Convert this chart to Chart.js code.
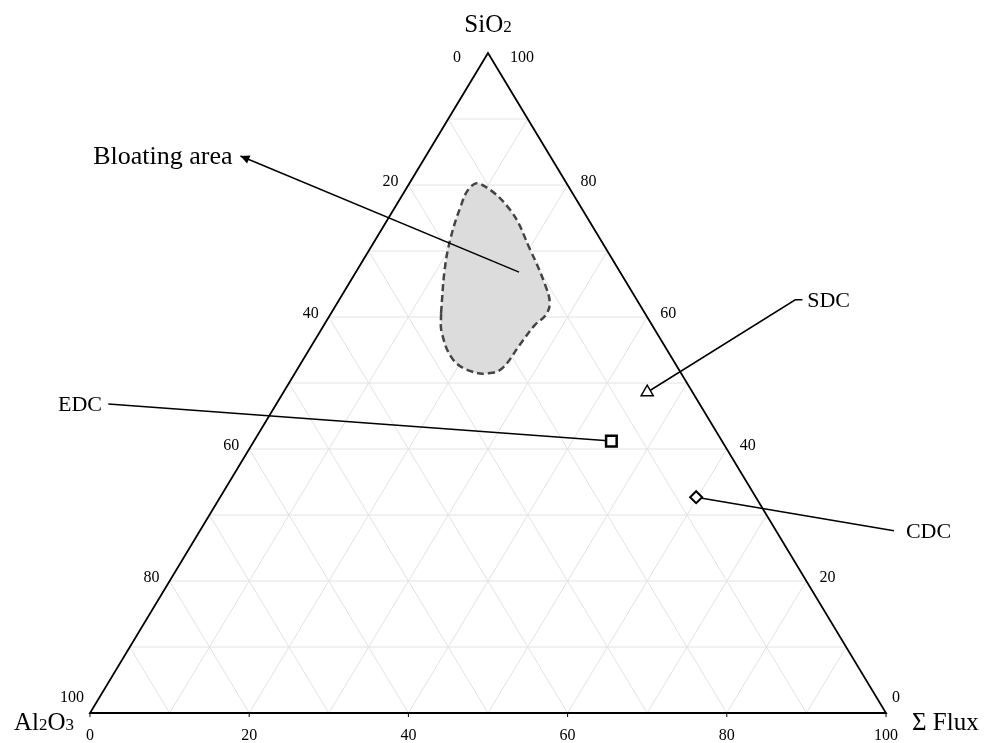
<!DOCTYPE html>
<html>
<head>
<meta charset="utf-8">
<script src="https://cdn.jsdelivr.net/npm/chart.js@4"></script>
<style>
  html, body { margin: 0; padding: 0; background: #fff; }
  canvas { display: block; }
</style>
</head>
<body>
<canvas id="ternary" width="986" height="743"></canvas>
<script>
// ternary components in %, Al2O3 = 100 - SiO2 - Flux
const sampleNames = ["SDC", "EDC", "CDC"];
const sampleSiO2 = [48.6, 41.2, 32.7];
const sampleFlux = [45.7, 44.9, 59.8];

const bloatSiO2 = [60.6, 67.1, 71.7, 76.7, 79.5, 80.2, 76.2, 70.2, 64.8, 62.1, 60.3, 58.8, 55.8, 52.3, 51.5, 51.7, 53.5, 57.6, 60.6];
const bloatFlux = [13.8, 11.0, 9.4, 8.2, 7.9, 8.9, 14.7, 20.2, 24.8, 26.7, 27.1, 26.5, 26.1, 25.7, 24.5, 22.2, 18.9, 15.4, 13.8];

const gridSteps = [10, 20, 30, 40, 50, 60, 70, 80, 90];
const tickLabels = [0, 20, 40, 60, 80, 100];

// ternary (flux, sio2) -> cartesian data units
function tern(flux, sio2) {
  return { x: flux + sio2 / 2, y: sio2 };
}

const sampleStyles = ["triangle", "rect", "rectRot"];
const sampleSizes = [7, 7.5, 6];
const sampleWidths = [1.5, 2.5, 2];

const samplePoints = sampleNames.map((n, i) => ({
  label: n,
  data: [tern(sampleFlux[i], sampleSiO2[i])],
  pointStyle: sampleStyles[i],
  pointRadius: sampleSizes[i],
  pointBorderWidth: sampleWidths[i],
  pointBorderColor: "#000",
  pointBackgroundColor: "#fff",
  showLine: false,
}));

const bloatData = bloatSiO2.map((s, i) => tern(bloatFlux[i], s));

// leader lines in data units, label anchor
const leaders = [
  { pts: [tern(sampleFlux[0], sampleSiO2[0]), { x: 88.6, y: 62.6 }, { x: 89.5, y: 62.6 }], text: "SDC", tx: 90.1, ty: 62.6, align: "left" },
  { pts: [{ x: 2.3, y: 46.8 }, tern(sampleFlux[1], sampleSiO2[1])], text: "EDC", tx: 1.5, ty: 46.8, align: "right" },
  { pts: [tern(sampleFlux[2], sampleSiO2[2]), { x: 101.0, y: 27.6 }], text: "CDC", tx: 102.5, ty: 27.6, align: "left" },
];

const ternaryPlugin = {
  id: "ternaryFrame",
  beforeDatasetsDraw(chart) {
    const ctx = chart.ctx;
    const xs = chart.scales.x, ys = chart.scales.y;
    const px = p => [xs.getPixelForValue(p.x), ys.getPixelForValue(p.y)];
    const seg = (a, b) => {
      const A = px(a), B = px(b);
      ctx.beginPath();
      ctx.moveTo(A[0], A[1]);
      ctx.lineTo(B[0], B[1]);
      ctx.stroke();
    };
    ctx.save();
    // grid
    ctx.strokeStyle = "#e2e2e2";
    ctx.lineWidth = 1;
    gridSteps.forEach(k => {
      seg(tern(0, k), tern(100 - k, k));
      seg(tern(k, 0), tern(k, 100 - k));
      seg(tern(100 - k, 0), tern(0, 100 - k));
    });
    // leader lines (under the markers)
    ctx.strokeStyle = "#000";
    ctx.lineWidth = 1.5;
    leaders.forEach(ld => {
      ctx.beginPath();
      ld.pts.forEach((p, i) => {
        const q = px(p);
        if (i === 0) ctx.moveTo(q[0], q[1]); else ctx.lineTo(q[0], q[1]);
      });
      ctx.stroke();
    });
    ctx.restore();
  },
  afterDatasetsDraw(chart) {
    const ctx = chart.ctx;
    const xs = chart.scales.x, ys = chart.scales.y;
    const px = p => [xs.getPixelForValue(p.x), ys.getPixelForValue(p.y)];
    ctx.save();
    // triangle frame
    const T = px(tern(0, 100)), L = px(tern(0, 0)), R = px(tern(100, 0));
    ctx.strokeStyle = "#000";
    ctx.lineWidth = 1.8;
    ctx.beginPath();
    ctx.moveTo(T[0], T[1]);
    ctx.lineTo(L[0], L[1]);
    ctx.lineTo(R[0], R[1]);
    ctx.closePath();
    ctx.stroke();

    ctx.lineWidth = 1;
    ctx.font = "16px 'Liberation Serif'";
    ctx.fillStyle = "#000";
    tickLabels.forEach(v => {
      // bottom: Flux
      const b = px(tern(v, 0));
      ctx.beginPath();
      ctx.moveTo(b[0], b[1]);
      ctx.lineTo(b[0], b[1] + 4);
      ctx.stroke();
      ctx.textAlign = "center";
      ctx.textBaseline = "alphabetic";
      ctx.fillText(String(v), b[0], b[1] + 27);

      // left side: Al2O3
      const l = px(tern(0, 100 - v));
      ctx.textAlign = "right";
      if (v === 0) {
        ctx.fillText("0", l[0] - 27, l[1] + 9);
      } else if (v === 100) {
        ctx.fillText("100", l[0] - 6, l[1] - 11);
      } else {
        ctx.fillText(String(v), l[0] - 10, l[1] + 1);
      }
      // right side: SiO2
      const r = px(tern(100 - v, v));
      ctx.textAlign = "left";
      if (v === 100) {
        ctx.fillText("100", r[0] + 22, r[1] + 9);
      } else if (v === 0) {
        ctx.fillText("0", r[0] + 6, r[1] - 11);
      } else {
        ctx.fillText(String(v), r[0] + 13, r[1] + 1);
      }
    });

    // axis titles with small digits
    const drawChem = (parts, x, y, align) => {
      let w = 0;
      parts.forEach(p => {
        ctx.font = (p.small ? "17px" : "25px") + " 'Liberation Serif'";
        w += ctx.measureText(p.t).width;
      });
      let cx = align === "center" ? x - w / 2 : align === "right" ? x - w : x;
      ctx.textAlign = "left";
      ctx.textBaseline = "alphabetic";
      parts.forEach(p => {
        ctx.font = (p.small ? "17px" : "25px") + " 'Liberation Serif'";
        ctx.fillText(p.t, cx, y);
        cx += ctx.measureText(p.t).width;
      });
    };
    drawChem([{ t: "SiO" }, { t: "2", small: true }], T[0], T[1] - 21, "center");
    drawChem([{ t: "Al" }, { t: "2", small: true }, { t: "O" }, { t: "3", small: true }], L[0] - 16, L[1] + 17, "right");
    drawChem([{ t: "\u03A3 Flux" }], R[0] + 26, R[1] + 17, "left");

    // sample labels
    leaders.forEach(ld => {
      const t = px({ x: ld.tx, y: ld.ty });
      ctx.font = "22px 'Liberation Serif'";
      ctx.textAlign = ld.align;
      ctx.textBaseline = "middle";
      ctx.fillText(ld.text, t[0], t[1] + 1);
    });

    // bloating area arrow
    ctx.lineWidth = 1.5;
    const a0 = px({ x: 53.9, y: 66.8 }), a1 = px({ x: 18.9, y: 84.4 });
    ctx.beginPath();
    ctx.moveTo(a0[0], a0[1]);
    ctx.lineTo(a1[0], a1[1]);
    ctx.stroke();
    const ang = Math.atan2(a1[1] - a0[1], a1[0] - a0[0]);
    ctx.beginPath();
    ctx.moveTo(a1[0], a1[1]);
    ctx.lineTo(a1[0] - 10 * Math.cos(ang - 0.45), a1[1] - 10 * Math.sin(ang - 0.45));
    ctx.lineTo(a1[0] - 10 * Math.cos(ang + 0.45), a1[1] - 10 * Math.sin(ang + 0.45));
    ctx.closePath();
    ctx.fill();
    ctx.font = "26px 'Liberation Serif'";
    ctx.textAlign = "right";
    ctx.textBaseline = "middle";
    const bl = px({ x: 17.9, y: 84.2 });
    ctx.fillText("Bloating area", bl[0], bl[1]);
    ctx.restore();
  },
};

new Chart(document.getElementById("ternary"), {
  type: "scatter",
  data: {
    datasets: [
      {
        label: "Bloating area",
        type: "line",
        data: bloatData,
        borderColor: "#444",
        borderWidth: 2.5,
        borderDash: [7, 4],
        backgroundColor: "#dcdcdc",
        fill: "shape",
        tension: 0.4,
        pointRadius: 0,
      },
      ...samplePoints,
    ],
  },
  options: {
    responsive: false,
    animation: false,
    layout: { padding: { left: 90, right: 100, top: 53, bottom: 30 } },
    scales: {
      x: { type: "linear", min: 0, max: 100, display: false },
      y: { type: "linear", min: 0, max: 100, display: false },
    },
    plugins: {
      legend: { display: false },
      tooltip: { enabled: false },
    },
  },
  plugins: [ternaryPlugin],
});
</script>
</body>
</html>
